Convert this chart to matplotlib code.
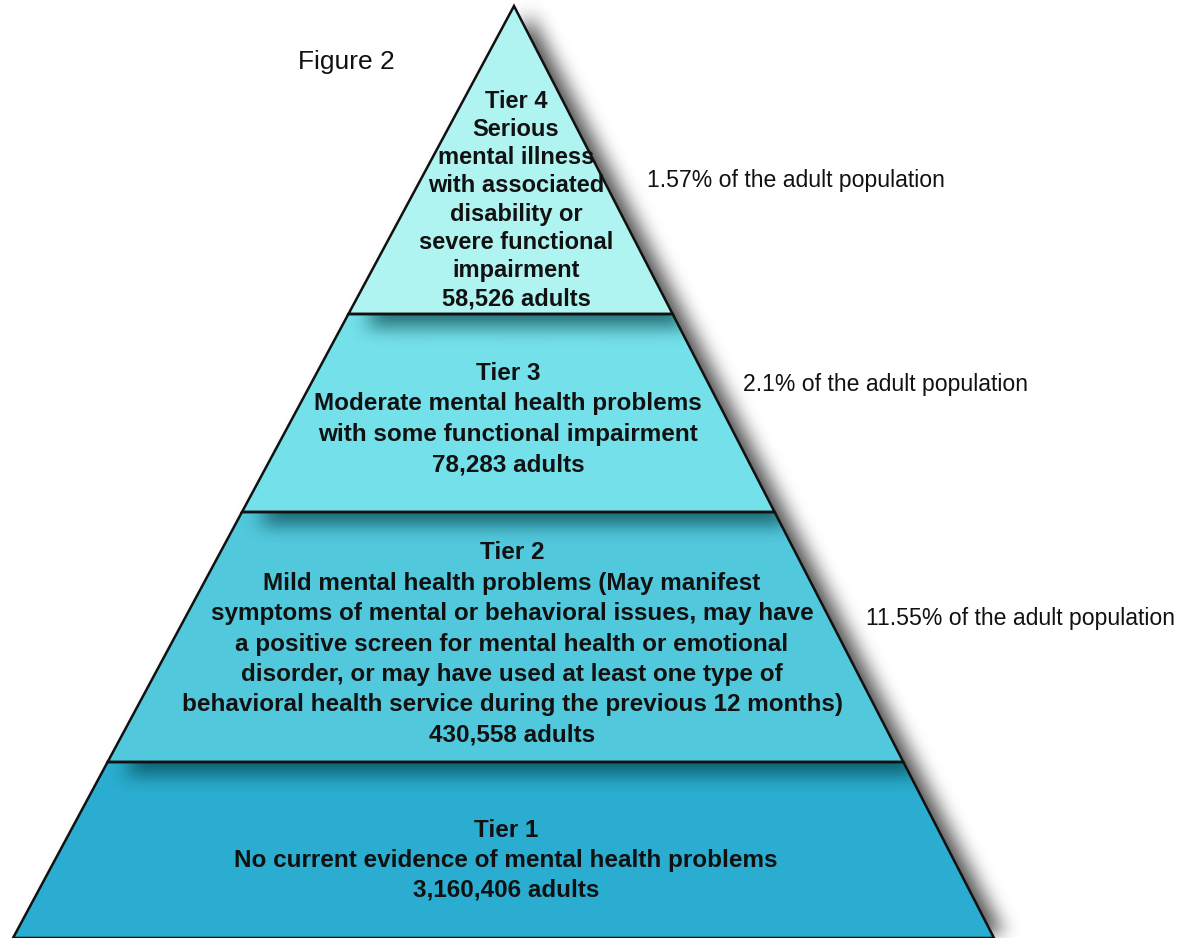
import numpy as np
import matplotlib
matplotlib.use("Agg")
import matplotlib.pyplot as plt
from matplotlib.path import Path
from matplotlib.patches import Polygon

# ---------------- data ----------------
tiers = ["Tier 4", "Tier 3", "Tier 2", "Tier 1"]
descriptions = [
    "Serious\nmental illness\nwith associated\ndisability or\nsevere functional\nimpairment",
    "Moderate mental health problems\nwith some functional impairment",
    "Mild mental health problems (May manifest\nsymptoms of mental or behavioral issues, may have\n"
    "a positive screen for mental health or emotional\ndisorder, or may have used at least one type of\n"
    "behavioral health service during the previous 12 months)",
    "No current evidence of mental health problems",
]
adults = [58526, 78283, 430558, 3160406]
pct_labels = ["1.57% of the adult population",
              "2.1% of the adult population",
              "11.55% of the adult population"]
title = "Figure 2"

# ---------------- style / layout ----------------
W, H = 1180, 938
colors = ["#b0f4f1", "#74e0ea", "#52c8dd", "#2aadd0"]
apex_x, apex_y = 514, 6
base_y, base_left, base_right = 938, 13, 994
bounds = [6, 314, 512, 762, 938]
text_center_y = [200, 419, 644, 860]
text_center_x = [516, 508, 512, 506]
line_sp = [1.29, 1.41, 1.41, 1.38]
tier_fs = [17.0, 17.5, 17.5, 17.5]
pct_pos = [(647, 180), (743, 385), (866, 619)]
FONT = "Liberation Sans"

plt.rcParams["font.family"] = [FONT, "DejaVu Sans"]

fig = plt.figure(figsize=(W / 100, H / 100), dpi=100)
ax = fig.add_axes([0, 0, 1, 1])
ax.set_xlim(0, W)
ax.set_ylim(H, 0)
ax.axis("off")


def lx(y):
    t = (y - apex_y) / (base_y - apex_y)
    return apex_x + t * (base_left - apex_x)


def rx(y):
    t = (y - apex_y) / (base_y - apex_y)
    return apex_x + t * (base_right - apex_x)


def tier_poly(k):
    top, bot = bounds[k], bounds[k + 1]
    if k == 0:
        return [(apex_x, apex_y), (rx(bot), bot), (lx(bot), bot)]
    return [(lx(top), top), (rx(top), top), (rx(bot), bot), (lx(bot), bot)]


yy, xx = np.mgrid[0:H, 0:W]
pts = np.column_stack([xx.ravel() + 0.5, yy.ravel() + 0.5])


def mask(poly):
    return Path(poly).contains_points(pts).reshape(H, W).astype(float)


def box1d(a, r, axis):
    pad = [(0, 0), (0, 0)]
    pad[axis] = (r + 1, r)
    c = np.cumsum(np.pad(a, pad), axis=axis)
    n = a.shape[axis]
    hi = np.take(c, np.arange(2 * r + 1, 2 * r + 1 + n), axis=axis)
    lo = np.take(c, np.arange(0, n), axis=axis)
    return (hi - lo) / (2 * r + 1)


def blur(a, r, n=3):
    for _ in range(n):
        a = box1d(a, r, 0)
        a = box1d(a, r, 1)
    return a


def shift(a, dx, dy):
    out = np.zeros_like(a)
    out[dy:, dx:] = a[:H - dy, :W - dx]
    return out


# outer drop shadow
ext = base_y + 40
tri = [(apex_x, apex_y), (rx(ext), ext), (lx(ext), ext)]
m_all = mask(tri)
sh = blur(shift(m_all, 15, 8), 9)
img = np.zeros((H, W, 4))
img[..., 3] = 0.72 * sh
ax.imshow(img, extent=(0, W, H, 0), zorder=1, interpolation="bilinear")

masks = [mask(tier_poly(k)) for k in range(4)]

for k in range(4):
    ax.add_patch(Polygon(tier_poly(k), closed=True, facecolor=colors[k],
                         edgecolor="none", zorder=2))

# inner shadows cast by the tier above
for k in range(1, 4):
    s = blur(shift(masks[k - 1], 16, 13), 8)
    a = 0.68 * s * masks[k]
    im = np.zeros((H, W, 4))
    im[..., 0] = 0.0
    im[..., 1] = 60 / 255
    im[..., 2] = 66 / 255
    im[..., 3] = a
    ax.imshow(im, extent=(0, W, H, 0), zorder=3, interpolation="bilinear")

for k in range(4):
    ax.add_patch(Polygon(tier_poly(k), closed=True, facecolor="none",
                         edgecolor="#111111", linewidth=1.8, zorder=4,
                         joinstyle="miter"))

# tier texts
for k in range(4):
    txt = f"{tiers[k]}\n{descriptions[k]}\n{adults[k]:,} adults"
    ax.text(text_center_x[k], text_center_y[k], txt, ha="center", va="center",
            fontsize=tier_fs[k], fontweight="bold", color="#111111",
            linespacing=line_sp[k], zorder=5)

for (x, y), lab in zip(pct_pos, pct_labels):
    ax.text(x, y, lab, ha="left", va="center", fontsize=16.6, color="#111111", zorder=5)

ax.text(298, 62, title, ha="left", va="center", fontsize=19, color="#111111", zorder=5)

fig.savefig("out.png", dpi=100)
